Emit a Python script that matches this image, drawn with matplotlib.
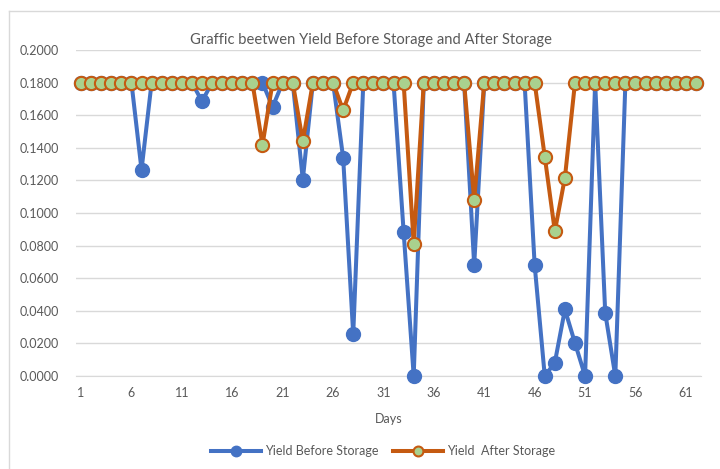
import matplotlib
matplotlib.use("Agg")
import matplotlib.pyplot as plt
from matplotlib.lines import Line2D
from matplotlib.ticker import FormatStrFormatter
import numpy as np

plt.rcParams['font.family'] = ['Lato', 'DejaVu Sans']

# data
days = np.arange(1, 63)
before = [0.18] * 62
after = [0.18] * 62

before_dips = {7: 0.1265, 13: 0.1685, 20: 0.165, 23: 0.1205, 27: 0.134, 28: 0.0255,
               33: 0.0885, 34: 0.0, 40: 0.068, 46: 0.068, 47: 0.0, 48: 0.0082,
               49: 0.0408, 50: 0.0202, 51: 0.0, 53: 0.0386, 54: 0.0}
after_dips = {19: 0.1418, 23: 0.144, 27: 0.163, 34: 0.081, 40: 0.108,
              47: 0.1346, 48: 0.0888, 49: 0.1217}
for d, v in before_dips.items():
    before[d - 1] = v
for d, v in after_dips.items():
    after[d - 1] = v

xticks = list(range(1, 63, 5))

gray = '#595959'
fig = plt.figure(figsize=(7.2, 4.69), dpi=100)
ax = fig.add_axes([76 / 720, 1 - 376 / 469, (701 - 76) / 720, (376 - 50) / 469])

ax.plot(days, before, color='#4472C4', lw=2.9, marker='o', markersize=10,
        markerfacecolor='#4472C4', markeredgecolor='#4472C4', label='Yield Before Storage',
        zorder=3, clip_on=False)
ax.plot(days, after, color='#C55A11', lw=2.9, marker='o', markersize=9.5,
        markerfacecolor='#A9D18E', markeredgecolor='#C55A11', markeredgewidth=1.5,
        label='Yield  After Storage', zorder=4, clip_on=False)

ax.set_xlim(0.5, 62.5)
ax.set_ylim(0, 0.2)
ax.set_yticks(np.arange(0, 0.2001, 0.02))
ax.yaxis.set_major_formatter(FormatStrFormatter('%.4f'))
ax.set_xticks(xticks)
ax.grid(axis='y', color='#D9D9D9', lw=1)
ax.set_axisbelow(True)
for s in ['top', 'right', 'left']:
    ax.spines[s].set_visible(False)
ax.spines['bottom'].set_color('#D9D9D9')
ax.tick_params(length=0, colors=gray, labelsize=9)
ax.tick_params(axis='y', pad=12)
ax.tick_params(axis='x', pad=8)
ax.set_xlabel('Days', color=gray, fontsize=9, labelpad=10)

fig.text(371 / 720, 1 - 40 / 469, 'Graffic beetwen Yield Before Storage and After Storage',
         ha='center', va='center', color=gray, fontsize=10.6)

fig.legend(loc='center', bbox_to_anchor=(383 / 720, 1 - 451 / 469), ncol=2, frameon=False,
           fontsize=9, labelcolor=gray, handlelength=4, columnspacing=1.2,
           handletextpad=0.3, markerscale=0.75)

# chart border (left and top edges visible)
fig.add_artist(Line2D([9 / 720, 9 / 720], [0, 1 - 11 / 469], color='#D9D9D9', lw=1))
fig.add_artist(Line2D([9 / 720, 1], [1 - 11 / 469, 1 - 11 / 469], color='#D9D9D9', lw=1))

fig.savefig('out.png', dpi=100)
